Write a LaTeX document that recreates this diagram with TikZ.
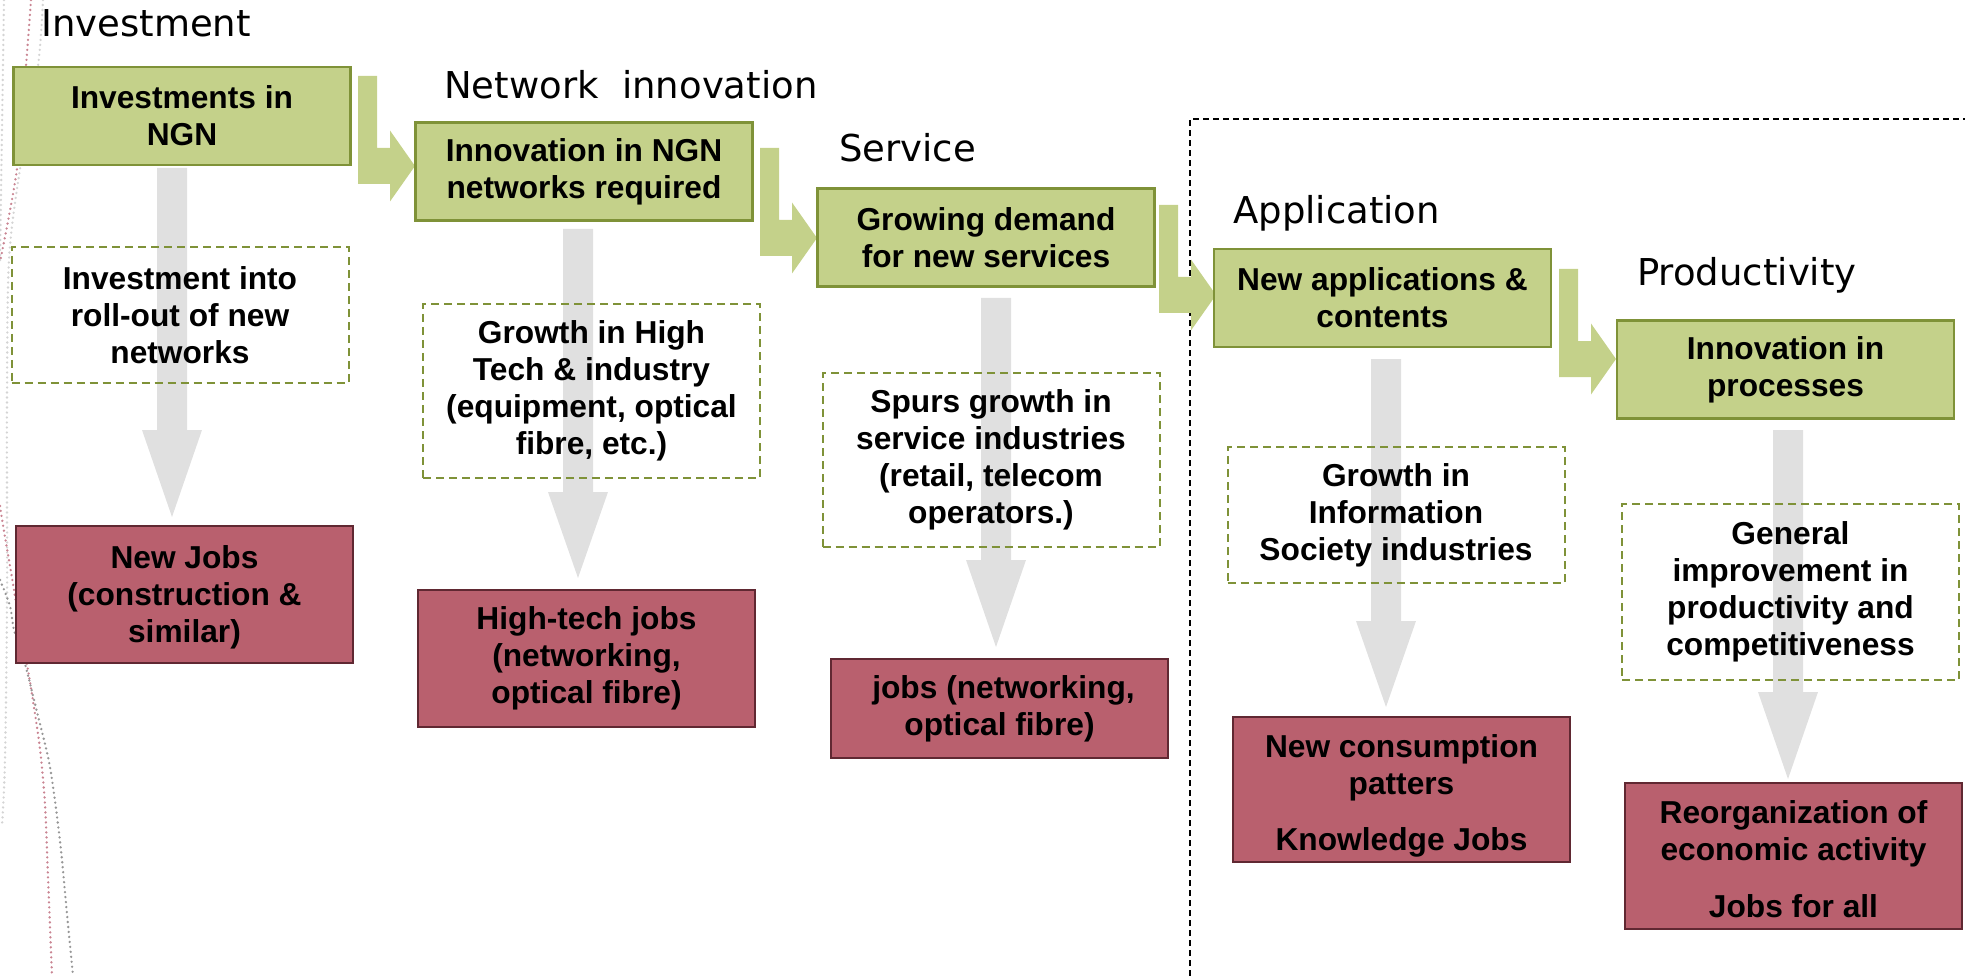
\documentclass[tikz,border=0pt]{standalone}
\usepackage{fontspec}
\setmainfont{Liberation Sans}
\newfontfamily\titlefont{DejaVu Sans}

\definecolor{greenfill}{RGB}{196,209,138}
\definecolor{greenline}{RGB}{127,146,56}
\definecolor{redfill}{RGB}{185,96,110}
\definecolor{redline}{RGB}{96,40,50}
\definecolor{arrowgray}{RGB}{224,224,224}
\definecolor{decopink}{RGB}{201,132,146}
\definecolor{decogray}{RGB}{150,150,150}
\definecolor{decolight}{RGB}{212,212,212}

% wide gray block arrow: centre x, stem top, head base, tip
\newcommand{\grayarrow}[4]{%
  \fill[arrowgray] (#1-15,#2) -- (#1+15,#2) -- (#1+15,#3) -- (#1+30,#3)
    -- (#1,#4) -- (#1-30,#3) -- (#1-15,#3) -- cycle;}
% first line of a box set to a given height
\newcommand{\linetop}[1]{\raisebox{0pt}[#1][0pt]{}}

\begin{document}
\begin{tikzpicture}[x=1pt,y=-1pt,
  boxtext/.style={font=\fontsize{31.7}{37}\selectfont\bfseries, align=center, inner sep=0pt},
  greenbox/.style={boxtext, draw=greenline, fill=greenfill, line width=2.5pt,
    minimum width=337pt, minimum height=98pt},
  redbox/.style={boxtext, draw=redline, fill=redfill, line width=2pt,
    minimum width=337pt},
  effectbox/.style={boxtext, draw=greenline, line width=2pt,
    dash pattern=on 8pt off 5pt, minimum width=337pt},
  stagelabel/.style={font=\titlefont\fontsize{37}{44}\selectfont, inner sep=0pt, anchor=base west},
  deco/.style={line width=2.6pt, line cap=round, dash pattern=on 0pt off 5pt},
  bentarrow/.pic={\fill[greenfill] (0,0) -- (19,0) -- (19,72) -- (32,72) -- (32,54.5)
    -- (57,90) -- (32,125.5) -- (32,108) -- (0,108) -- cycle;}
]
\useasboundingbox (0,0) rectangle (1965,976);

% decorative dotted curves along the left edge
\draw[deco, decolight] plot[smooth] coordinates {(4,0) (2,130) (0,262)};
\draw[deco, decopink] plot[smooth] coordinates {(31,0) (26,66) (17,169) (0,262)};
\draw[deco, decolight] plot[smooth] coordinates {(43,0) (38,66) (20,169) (9,260) (7,400) (7,600) (5,760) (2,826)};
\draw[deco, decopink] plot[smooth] coordinates {(0,506) (3,525) (13,584) (22,640) (27,664) (33,701) (40,749) (45,804) (48,877) (52,976)};
\draw[deco, decogray] plot[smooth] coordinates {(0,580) (10,606) (14,630) (25,664) (37,712) (50,767) (60,841) (67,914) (73,976)};

% region of application and productivity stages
\draw[line width=2pt, dash pattern=on 6pt off 4pt] (1190,976) -- (1190,119) -- (1965,119);

% downward flow arrows
\grayarrow{172}{168}{430}{517}
\grayarrow{578}{229}{492}{578}
\grayarrow{996}{298}{560}{647}
\grayarrow{1386}{359}{621}{707}
\grayarrow{1788}{430}{692}{779}

% bent arrows between the stages
\pic at (358,76) {bentarrow};
\pic at (760,148) {bentarrow};
\pic at (1159,205) {bentarrow};
\pic at (1559,269) {bentarrow};

% stage titles
\node[stagelabel] (t1) at (41,37) {Investment};
\node[stagelabel] (t2) at (444,99) {Network\ \ innovation};
\node[stagelabel] (t3) at (839,162) {Service};
\node[stagelabel] (t4) at (1233,224) {Application};
\node[stagelabel] (t5) at (1637,286) {Productivity};

% stage boxes
\node[greenbox] (g1) at (182,116) {Investments in\\NGN};
\node[greenbox] (g2) at (584,171.5) {Innovation in NGN\\networks required};
\node[greenbox] (g3) at (986,237.5) {Growing demand\\for new services};
\node[greenbox] (g4) at (1382.5,298) {New applications \&\\contents};
\node[greenbox] (g5) at (1785.5,369.5) {Innovation in\\processes};

% effects
\node[effectbox, minimum height=136pt] (d1) at (180,315) {Investment into\\roll-out of new\\networks};
\node[effectbox, minimum height=174pt] (d2) at (591.5,391) {Growth in High\\Tech \& industry\\(equipment, optical\\fibre, etc.)};
\node[effectbox, minimum height=174pt] (d3) at (991,460) {Spurs growth in\\service industries\\(retail, telecom\\operators.)};
\node[effectbox, minimum height=136pt] (d4) at (1396,515) {Growth in\\Information\\Society industries};
\node[effectbox, minimum height=176pt] (d5) at (1790.5,592) {General\\improvement in\\productivity and\\competitiveness};

% jobs
\node[redbox, minimum height=137pt] (r1) at (184.5,594.5) {\linetop{29pt}New Jobs\\(construction \&\\similar)};
\node[redbox, minimum height=137pt] (r2) at (586.5,658.5) {High-tech jobs\\(networking,\\optical fibre)};
\node[redbox, minimum height=99pt] (r3) at (999.5,708.5) {\hspace*{8pt}jobs (networking,\\optical fibre)};
\node[redbox, minimum height=145pt] (r4) at (1401.5,789.5) {\linetop{36.7pt}New consumption\\patters\\[19pt]Knowledge Jobs};
\node[redbox, minimum height=146pt] (r5) at (1793.5,856) {\linetop{30pt}Reorganization of\\economic activity\\[20pt]Jobs for all};
\end{tikzpicture}
\end{document}
